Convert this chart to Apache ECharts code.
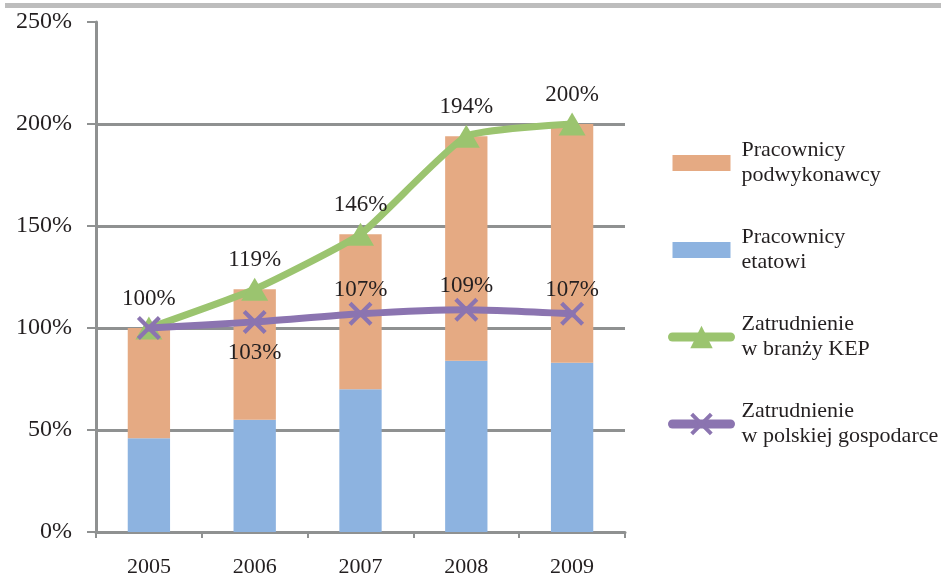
<!DOCTYPE html>
<html>
<head>
<meta charset="utf-8">
<style>
  html, body { margin: 0; padding: 0; background: #ffffff; }
  #chart { width: 941px; height: 577px; }
</style>
<script src="https://cdn.jsdelivr.net/npm/echarts@6/dist/echarts.min.js"></script>
</head>
<body>
<div id="chart"></div>
<script>
// Zatrudnienie w branży KEP, 2005 = 100%
const years = ['2005', '2006', '2007', '2008', '2009'];
const etatowi = [46, 55, 70, 84, 83];
const podwykonawcy = [54, 64, 76, 110, 117];
const branzaKEP = [100, 119, 146, 194, 200];
const gospodarka = [100, 103, 107, 109, 107];
const yTicks = [0, 50, 100, 150, 200, 250];

const serif = '"Liberation Serif", "DejaVu Serif", serif';
const axisGray = '#8f9191';
const textColor = '#231f20';
const crossPath = 'path://M0,2.5 L2.5,0 L10,7.5 L17.5,0 L20,2.5 L12.5,10 L20,17.5 L17.5,20 L10,12.5 L2.5,20 L0,17.5 L7.5,10 Z';
const boxIcon = 'path://M0,0 L58,0 L58,16 L0,16 Z';

const names = {
  podw: 'Pracownicy\npodwykonawcy',
  etat: 'Pracownicy\netatowi',
  kep: 'Zatrudnienie\nw branży KEP',
  gosp: 'Zatrudnienie\nw polskiej gospodarce'
};

const pct = p => p.value + '%';

const chart = echarts.init(document.getElementById('chart'), null, { renderer: 'canvas' });

chart.setOption({
  animation: false,
  backgroundColor: '#ffffff',
  graphic: [{
    type: 'rect',
    shape: { x: 5, y: 3, width: 936, height: 5 },
    style: { fill: '#bdbdbd' },
    silent: true
  }],
  grid: { left: 96, right: 316, top: 22, bottom: 45, outerBoundsMode: 'none', containLabel: false },
  legend: {
    orient: 'vertical',
    left: 668,
    top: 138,
    padding: 0,
    itemWidth: 58,
    itemHeight: 28,
    itemGap: 37,
    data: [
      { name: names.podw, icon: boxIcon },
      { name: names.etat, icon: boxIcon },
      { name: names.kep, lineStyle: { width: 9, cap: 'round' } },
      { name: names.gosp, lineStyle: { width: 9, cap: 'round' } }
    ],
    textStyle: {
      fontFamily: serif,
      fontSize: 22,
      lineHeight: 25,
      color: textColor,
      padding: [0, 0, 0, 6]
    }
  },
  xAxis: {
    type: 'category',
    data: years,
    boundaryGap: true,
    axisLine: { lineStyle: { color: axisGray, width: 3 } },
    axisTick: { show: true, length: 6, alignWithLabel: false, lineStyle: { color: axisGray, width: 2 } },
    axisLabel: { fontFamily: serif, fontSize: 22, color: textColor, margin: 24 }
  },
  yAxis: {
    type: 'value',
    min: yTicks[0],
    max: yTicks[yTicks.length - 1],
    interval: 50,
    axisLine: { show: true, lineStyle: { color: axisGray, width: 3 } },
    axisTick: { show: true, length: 9, lineStyle: { color: axisGray, width: 2 } },
    splitLine: { show: true, showMaxLine: false, lineStyle: { color: axisGray, width: 3 } },
    axisLabel: {
      fontFamily: serif, fontSize: 24, color: textColor, margin: 24,
      formatter: v => v + '%'
    }
  },
  series: [
    {
      name: names.etat,
      type: 'bar',
      stack: 'pracownicy',
      data: etatowi,
      barWidth: '40%',
      itemStyle: { color: '#8db3e0' }
    },
    {
      name: names.podw,
      type: 'bar',
      stack: 'pracownicy',
      data: podwykonawcy,
      barWidth: '40%',
      itemStyle: { color: '#e5aa83' }
    },
    {
      name: names.kep,
      type: 'line',
      data: branzaKEP,
      smooth: 0.15,
      symbol: 'triangle',
      symbolSize: [27, 23],
      lineStyle: { color: '#9bc46f', width: 7, cap: 'round' },
      itemStyle: { color: '#9bc46f' },
      label: {
        show: true, position: 'top', distance: 6,
        fontFamily: serif, fontSize: 23, color: textColor,
        formatter: pct
      },
      z: 3
    },
    {
      name: names.gosp,
      type: 'line',
      data: gospodarka.map((v, i) => {
        if (i === 0) return { value: v, label: { show: false } };
        if (i === 1) return { value: v, label: { position: 'bottom', distance: 8 } };
        return v;
      }),
      smooth: 0.2,
      symbol: crossPath,
      symbolSize: 24,
      lineStyle: { color: '#8b74b0', width: 7, cap: 'round' },
      itemStyle: { color: '#8b74b0' },
      label: {
        show: true, position: 'top', distance: 0,
        fontFamily: serif, fontSize: 23, color: textColor,
        formatter: pct
      },
      z: 4
    }
  ]
});
</script>
</body>
</html>
